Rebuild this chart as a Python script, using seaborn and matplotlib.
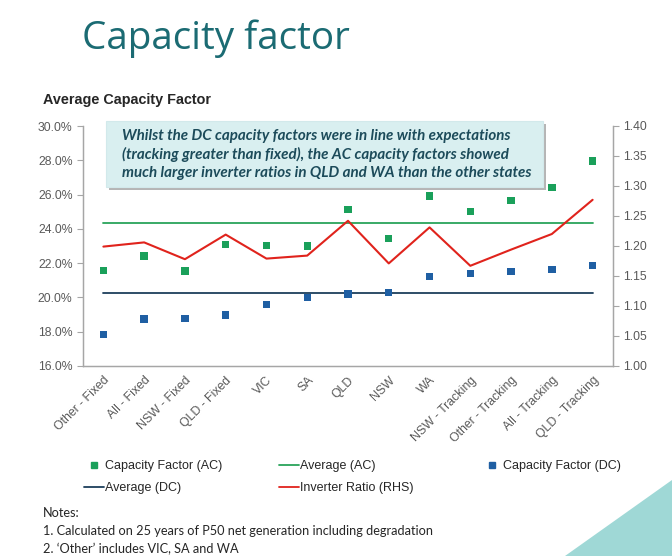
import matplotlib
matplotlib.use("Agg")
import matplotlib.pyplot as plt
import matplotlib.patches as mpatches
from matplotlib.lines import Line2D
import seaborn as sns
import pandas as pd
import numpy as np

categories = ["Other - Fixed", "All - Fixed", "NSW - Fixed", "QLD - Fixed", "VIC", "SA",
              "QLD", "NSW", "WA", "NSW - Tracking", "Other - Tracking", "All - Tracking",
              "QLD - Tracking"]
cf_ac = [21.56, 22.42, 21.54, 23.10, 23.02, 23.00, 25.12, 23.45, 25.92, 25.00, 25.66, 26.40, 27.96]
cf_dc = [17.83, 18.74, 18.76, 18.97, 19.57, 19.98, 20.20, 20.30, 21.23, 21.38, 21.52, 21.62, 21.85]
inverter_ratio = [1.199, 1.206, 1.178, 1.219, 1.179, 1.184, 1.242, 1.171, 1.231, 1.167, 1.194, 1.220, 1.277]
avg_ac = 24.36
avg_dc = 20.24
left_ticks = [16, 18, 20, 22, 24, 26, 28, 30]
right_ticks = [1.00, 1.05, 1.10, 1.15, 1.20, 1.25, 1.30, 1.35, 1.40]

df = pd.DataFrame({"cat": categories, "pos": np.arange(len(categories)),
                   "ac": cf_ac, "dc": cf_dc, "ratio": inverter_ratio})

sns.set_style("white")
plt.rcParams["font.family"] = ["Liberation Sans", "DejaVu Sans"]

W, H = 672, 556
fig = plt.figure(figsize=(W / 100, H / 100), dpi=100)
ax = fig.add_axes([83 / W, 1 - 366 / H, (613 - 83) / W, (366 - 126) / H])
ax2 = ax.twinx()

GREEN = "#1aa05a"
BLUE = "#1f5fa3"
AVG_GREEN = "#2aa45a"
AVG_DC = "#1d3f5c"
RED = "#e0231c"
GRAY = "#595959"
SPINE = "#a6a6a6"

sns.scatterplot(data=df, x="pos", y="ac", marker="s", s=28, color=GREEN, edgecolor="none", ax=ax, zorder=3)
sns.scatterplot(data=df, x="pos", y="dc", marker="s", s=28, color=BLUE, edgecolor="none", ax=ax, zorder=3)
ax.plot([df["pos"].iloc[0], df["pos"].iloc[-1]], [avg_ac, avg_ac], color=AVG_GREEN, lw=1.3, zorder=2)
ax.plot([df["pos"].iloc[0], df["pos"].iloc[-1]], [avg_dc, avg_dc], color=AVG_DC, lw=1.3, zorder=2)
sns.lineplot(data=df, x="pos", y="ratio", color=RED, lw=1.5, ax=ax2, zorder=4)

ax.set_xlim(-0.5, len(categories) - 0.5)
ax.set_ylim(16, 30)
ax2.set_ylim(1.0, 1.4)
ax.set_yticks(left_ticks)
ax.set_yticklabels([f"{v:.1f}%" for v in left_ticks])
ax2.set_yticks(right_ticks)
ax2.set_yticklabels([f"{v:.2f}" for v in right_ticks])

ax.set_xticks(np.arange(len(categories)))
ax.set_xticklabels(categories, rotation=45, ha="right", rotation_mode="anchor")
ax.set_xticks(np.arange(-0.5, len(categories)), minor=True)
ax.tick_params(axis="x", which="major", length=0, labelsize=8.8, colors=GRAY, pad=6)
ax.tick_params(axis="x", which="minor", length=4, color=SPINE, direction="out")
ax.tick_params(axis="y", length=4, color=SPINE, labelsize=8.8, labelcolor=GRAY, left=True, direction="out")
ax2.tick_params(axis="y", length=4, color=SPINE, labelsize=8.8, labelcolor=GRAY, right=True, direction="out")
ax.set_xlabel("")
ax.set_ylabel("")
ax2.set_xlabel("")
ax2.set_ylabel("")
for a in (ax, ax2):
    a.spines["top"].set_visible(False)
    for s in ("left", "right", "bottom"):
        a.spines[s].set_color(SPINE)
        a.spines[s].set_linewidth(0.9)
    a.grid(False)
if ax.get_legend():
    ax.get_legend().remove()
if ax2.get_legend():
    ax2.get_legend().remove()

# Titles
fig.text(82 / W, 1 - 39 / H, "Capacity factor", fontsize=27.8, color="#1b6b73",
         family=["Open Sans", "DejaVu Sans"], va="center", ha="left")
fig.text(43 / W, 1 - 100 / H, "Average Capacity Factor", fontsize=10.4, fontweight="bold",
         color="#262626", va="center", ha="left")

# Annotation box with shadow
bx0, by0, bx1, by1 = 106, 121, 543, 187
shadow = mpatches.Rectangle((bx0 / W + 3 / W, 1 - (by1 + 3) / H), (bx1 - bx0) / W, (by1 - by0) / H,
                            transform=fig.transFigure, facecolor="#b5b5b5", edgecolor="none",
                            zorder=5)
box = mpatches.Rectangle((bx0 / W, 1 - by1 / H), (bx1 - bx0) / W, (by1 - by0) / H,
                         transform=fig.transFigure, facecolor="#d9eff0", edgecolor="#d2e9eb",
                         lw=0.8, zorder=6)
fig.add_artist(shadow)
fig.add_artist(box)
ann_lines = ["Whilst the DC capacity factors were in line with expectations",
             "(tracking greater than fixed), the AC capacity factors showed",
             "much larger inverter ratios in QLD and WA than the other states"]
for i, ln in enumerate(ann_lines):
    fig.text(122 / W, 1 - (136 + 18.3 * i) / H, ln, fontsize=10.9, fontweight="bold", style="italic",
             color="#1c4b5a", family=["Lato", "DejaVu Sans"], va="center", ha="left", zorder=7)

# Legends (three columns)
def sq(c):
    return Line2D([], [], marker="s", ls="none", color=c, markersize=5)

def ln_(c):
    return Line2D([], [], color=c, lw=1.3)

common = dict(frameon=False, fontsize=9, labelcolor="#262626", handletextpad=0.1,
              labelspacing=0.8, borderpad=0, borderaxespad=0, handlelength=1.6,
              loc="upper left")
leg1 = fig.legend([sq(GREEN), ln_(AVG_DC)], ["Capacity Factor (AC)", "Average (DC)"],
                  bbox_to_anchor=(84 / W, 1 - 460 / H), **common)
leg2 = fig.legend([ln_(AVG_GREEN), ln_(RED)], ["Average (AC)", "Inverter Ratio (RHS)"],
                  bbox_to_anchor=(279 / W, 1 - 460 / H), **common)
leg3 = fig.legend([sq(BLUE)], ["Capacity Factor (DC)"],
                  bbox_to_anchor=(482 / W, 1 - 460 / H), **common)

# Notes
notes = ["Notes:", "1. Calculated on 25 years of P50 net generation including degradation",
         "2. \u2018Other\u2019 includes VIC, SA and WA"]
for i, t in enumerate(notes):
    fig.text(43 / W, 1 - (513 + 18 * i) / H, t, fontsize=9.2, color="#262626",
             family=["Lato", "DejaVu Sans"], va="center", ha="left")

# Decorative corner triangle
tri = mpatches.Polygon([(565 / W, 0), (1, 0), (1, 1 - 480 / H)], closed=True,
                       transform=fig.transFigure, facecolor="#9fd8d6", edgecolor="none")
fig.add_artist(tri)

fig.savefig("out.png", dpi=100)
